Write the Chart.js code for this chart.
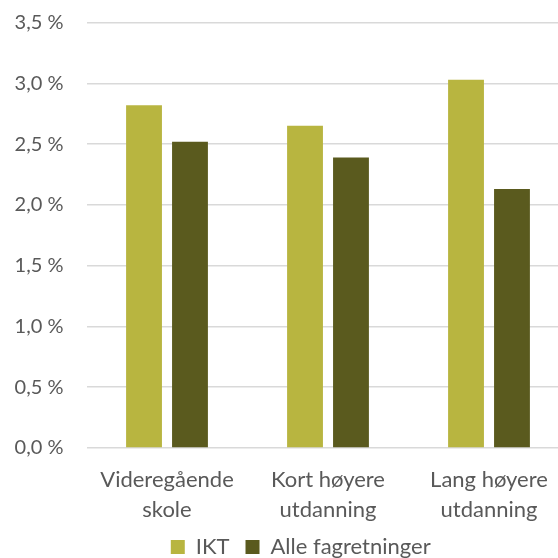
<!DOCTYPE html>
<html>
<head>
<meta charset="utf-8">
<script src="https://cdn.jsdelivr.net/npm/chart.js@4/dist/chart.umd.min.js"></script>
<style>
html,body{margin:0;padding:0;background:#fff;overflow:hidden;}
#wrap{position:relative;width:602px;height:568px;}
</style>
</head>
<body>
<div id="wrap"><canvas id="c"></canvas></div>
<script>
const categories = [["Videregående","skole"],["Kort høyere","utdanning"],["Lang høyere","utdanning"]];
const seriesNames = ["IKT","Alle fagretninger"];
const iktValues = [2.82, 2.65, 3.03];
const alleValues = [2.52, 2.39, 2.13];
const yTickLabels = ["0,0 %","0,5 %","1,0 %","1,5 %","2,0 %","2,5 %","3,0 %","3,5 %"];

const textColor = '#595959';
const adjustLayout = {
  id: 'adjustLayout',
  afterLayout(chart) {
    const l = chart.legend;
    if (l) { l.left += 16; l.right += 16; }
    const x = chart.scales.x;
    if (x) { x.bottom = chart.height; }
  }
};
new Chart(document.getElementById('c'), {
  type: 'bar',
  data: {
    labels: categories,
    datasets: [
      {label: seriesNames[0], data: iktValues, backgroundColor: '#b8b540', barPercentage: 0.78, categoryPercentage: 0.571},
      {label: seriesNames[1], data: alleValues, backgroundColor: '#5a5a1e', barPercentage: 0.78, categoryPercentage: 0.571}
    ]
  },
  plugins: [adjustLayout],
  options: {
    responsive: true,
    maintainAspectRatio: false,
    animation: false,
    layout: {padding: {top: 22.5, right: 32.5, bottom: 0, left: 0}},
    plugins: {
      legend: {
        position: 'bottom',
        labels: {boxWidth: 14, boxHeight: 14, color: textColor, font: {family: 'Lato', size: 22}, padding: 16}
      },
      tooltip: {enabled: false}
    },
    scales: {
      x: {
        afterFit: (s) => { s.height = 72; },
        grid: {display: false, drawTicks: false},
        border: {display: false},
        ticks: {color: textColor, font: {family: 'Lato', size: 22, lineHeight: 1.36}, padding: 17, maxRotation: 0, autoSkip: false}
      },
      y: {
        min: 0, max: 3.5,
        afterFit: (s) => { s.width = 86.5; s.paddingTop = 0; s.paddingBottom = 0; },
        grid: {color: '#d9d9d9', lineWidth: 1.5, drawTicks: false},
        border: {display: false},
        ticks: {
          stepSize: 0.5, padding: 23, color: textColor,
          font: {family: 'Lato', size: 20},
          callback: (v, i) => yTickLabels[i]
        }
      }
    }
  }
});
</script>
</body>
</html>
